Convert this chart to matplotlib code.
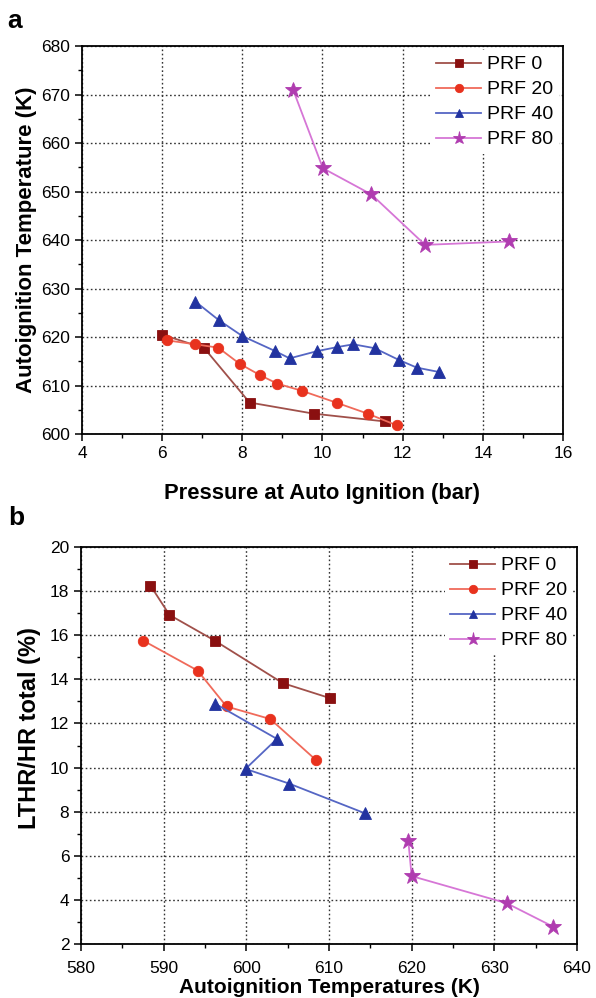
import matplotlib
matplotlib.use("Agg")
import matplotlib.pyplot as plt
from matplotlib.ticker import MultipleLocator

plt.rcParams["font.family"] = ["Liberation Sans", "DejaVu Sans"]

labels = ["PRF 0", "PRF 20", "PRF 40", "PRF 80"]
markers = ["s", "o", "^", "*"]
marker_colors = ["#8a1010", "#e8321e", "#2233a0", "#b03cb0"]
line_colors = ["#a0504a", "#f06a5a", "#5566c4", "#d676d6"]
marker_sizes = [6.5, 7.5, 8, 12]

# panel a: pressure at auto ignition (bar) vs autoignition temperature (K)
p_prf0 = [6.0, 7.05, 8.18, 9.78, 11.55]
t_prf0 = [620.5, 617.7, 606.5, 604.2, 602.6]
p_prf20 = [6.13, 6.83, 7.4, 7.93, 8.45, 8.87, 9.49, 10.37, 11.13, 11.85]
t_prf20 = [619.3, 618.5, 617.8, 614.5, 612.1, 610.4, 608.9, 606.4, 604.2, 601.8]
p_prf40 = [6.83, 7.41, 8.0, 8.82, 9.18, 9.87, 10.35, 10.77, 11.3, 11.9, 12.35, 12.9]
t_prf40 = [627.3, 623.5, 620.2, 617.1, 615.6, 617.1, 617.9, 618.5, 617.7, 615.3, 613.7, 612.8]
p_prf80 = [9.27, 10.01, 11.22, 12.56, 14.66]
t_prf80 = [670.9, 654.8, 649.4, 639.0, 639.7]

# panel b: autoignition temperature (K) vs LTHR/HR total (%)
at_prf0 = [588.4, 590.7, 596.2, 604.4, 610.1]
lt_prf0 = [18.25, 16.92, 15.75, 13.83, 13.15]
at_prf20 = [587.5, 594.1, 597.6, 602.9, 608.4]
lt_prf20 = [15.76, 14.4, 12.77, 12.2, 10.35]
at_prf40 = [596.2, 603.7, 599.9, 605.2, 614.4]
lt_prf40 = [12.9, 11.3, 9.94, 9.27, 7.92]
at_prf80 = [619.6, 620.0, 631.5, 637.1]
lt_prf80 = [6.67, 5.08, 3.85, 2.79]

panel_a = [(p_prf0, t_prf0), (p_prf20, t_prf20), (p_prf40, t_prf40), (p_prf80, t_prf80)]
panel_b = [(at_prf0, lt_prf0), (at_prf20, lt_prf20), (at_prf40, lt_prf40), (at_prf80, lt_prf80)]


def style_axes(ax):
    ax.grid(True, which="major", linestyle=(0, (1.2, 1.8)), color="#333333", linewidth=1.0)
    ax.set_axisbelow(True)
    ax.tick_params(which="major", direction="out", length=5, width=1.1, labelsize=12.5)
    ax.tick_params(which="minor", direction="out", length=3, width=1.0)
    for spine in ax.spines.values():
        spine.set_linewidth(1.3)


def draw_series(ax, series):
    for (xs, ys), lab, mk, mc, lc, ms in zip(series, labels, markers, marker_colors, line_colors, marker_sizes):
        ax.plot(xs, ys, color=lc, linewidth=1.3, marker=mk, markersize=ms,
                markerfacecolor=mc, markeredgecolor=mc, markeredgewidth=0.6, label=lab)


def add_legend(ax):
    leg = ax.legend(loc="upper right", bbox_to_anchor=(1.0, 1.0), fontsize=14, frameon=True,
                    handlelength=2.3, handletextpad=0.3, labelspacing=0.38, borderpad=0.3,
                    borderaxespad=0.2, fancybox=False, markerscale=0.8)
    leg.get_frame().set_edgecolor("none")
    leg.get_frame().set_alpha(1.0)
    return leg


fig = plt.figure(figsize=(5.96, 9.98), dpi=100)

ax1 = fig.add_axes([0.1376, 0.5651, 0.807, 0.3888])
draw_series(ax1, panel_a)
ax1.set_xlim(4, 16)
ax1.set_ylim(600, 680)
ax1.xaxis.set_major_locator(MultipleLocator(2))
ax1.xaxis.set_minor_locator(MultipleLocator(1))
ax1.yaxis.set_major_locator(MultipleLocator(10))
ax1.yaxis.set_minor_locator(MultipleLocator(5))
style_axes(ax1)
ax1.set_xlabel("Pressure at Auto Ignition (bar)", fontsize=15.8, fontweight="bold", labelpad=16)
ax1.set_ylabel("Autoignition Temperature (K)", fontsize=16, fontweight="bold", labelpad=3)
add_legend(ax1)

ax2 = fig.add_axes([0.136, 0.0541, 0.832, 0.3978])
draw_series(ax2, panel_b)
ax2.set_xlim(580, 640)
ax2.set_ylim(2, 20)
ax2.xaxis.set_major_locator(MultipleLocator(10))
ax2.xaxis.set_minor_locator(MultipleLocator(5))
ax2.yaxis.set_major_locator(MultipleLocator(2))
ax2.yaxis.set_minor_locator(MultipleLocator(1))
style_axes(ax2)
ax2.tick_params(axis="x", which="major", pad=7)
ax2.set_xlabel("Autoignition Temperatures (K)", fontsize=15, fontweight="bold", labelpad=2)
ax2.set_ylabel("LTHR/HR total (%)", fontsize=17, fontweight="bold")
ax2.yaxis.set_label_coords(-0.08, 0.544)
add_legend(ax2)

fig.text(0.013, 0.979, "a", fontsize=19, fontweight="bold", va="center")
fig.text(0.013, 0.481, "b", fontsize=19, fontweight="bold", va="center")

fig.savefig("out.png", dpi=100)
